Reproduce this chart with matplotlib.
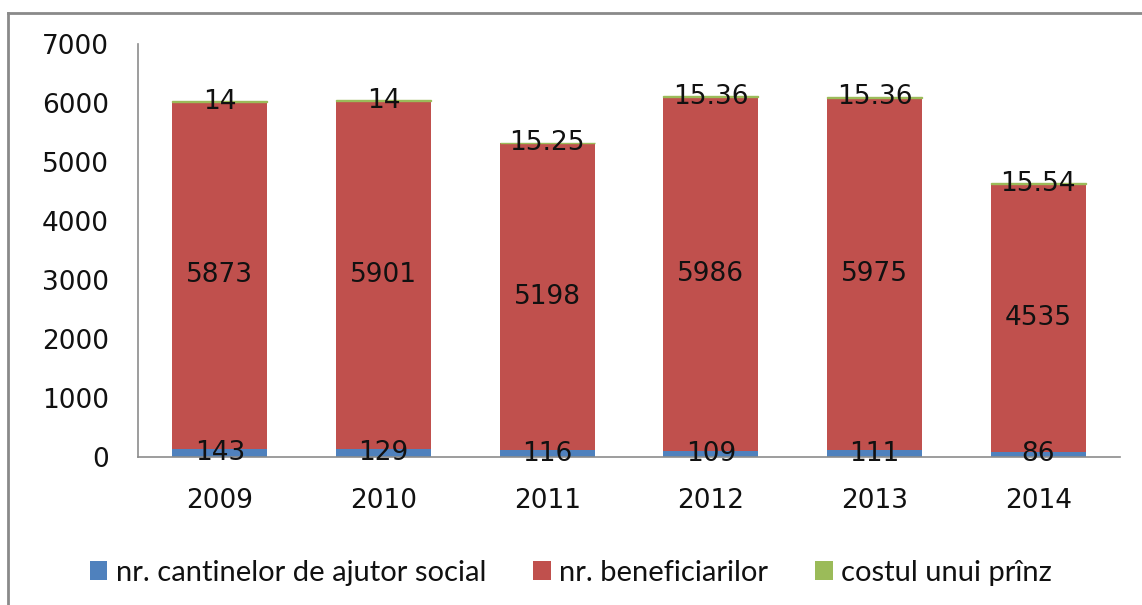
import matplotlib
matplotlib.use("Agg")
import matplotlib.pyplot as plt
from matplotlib.lines import Line2D
from matplotlib.patches import Patch
import numpy as np

years = ["2009", "2010", "2011", "2012", "2013", "2014"]
cantine = [143, 129, 116, 109, 111, 86]
beneficiari = [5873, 5901, 5198, 5986, 5975, 4535]
cost_pranz = [14, 14, 15.25, 15.36, 15.36, 15.54]
cost_labels = ["14", "14", "15.25", "15.36", "15.36", "15.54"]

series_names = ["nr. cantinelor de ajutor social", "nr. beneficiarilor", "costul unui prînz"]
colors = ["#4F81BD", "#C0504D", "#9BBB59"]

W, H = 1142, 605
fig = plt.figure(figsize=(W / 100, H / 100), dpi=100)
ax = fig.add_axes([138 / W, (H - 457) / H, (1120 - 138) / W, (457 - 44) / H])

x = np.arange(len(years))
bw = 0.58
ax.bar(x, cantine, bw, color=colors[0], linewidth=0)
ax.bar(x, beneficiari, bw, bottom=cantine, color=colors[1], linewidth=0)
bottom3 = np.array(cantine) + np.array(beneficiari)
ax.bar(x, cost_pranz, bw, bottom=bottom3, color=colors[2], edgecolor=colors[2], linewidth=1.0)

lab_font = dict(fontsize=19, color="#111111", ha="center", va="center")
for i in range(len(years)):
    ax.text(x[i], cantine[i] / 2, str(cantine[i]), **lab_font)
    ax.text(x[i], cantine[i] + beneficiari[i] / 2, str(beneficiari[i]), **lab_font)
    ax.text(x[i], bottom3[i] + cost_pranz[i] / 2, cost_labels[i], **lab_font)

ax.set_xlim(-0.5, len(years) - 0.5)
ax.set_ylim(0, 7000)
ax.set_yticks(range(0, 7001, 1000))
ax.set_xticks(x)
ax.set_xticklabels(years)
ax.tick_params(axis="y", length=0, pad=21, labelsize=19, labelcolor="#111111")
ax.tick_params(axis="x", length=0, pad=22, labelsize=19, labelcolor="#111111")
for s in ["top", "right"]:
    ax.spines[s].set_visible(False)
for s in ["left", "bottom"]:
    ax.spines[s].set_color("#8C8C8C")
    ax.spines[s].set_linewidth(1.2)

handles = [Patch(facecolor=c, edgecolor="none") for c in colors]
leg = fig.legend(handles, series_names, loc="center", bbox_to_anchor=(0.5, 1 - 573 / H),
                 ncol=3, frameon=False, handlelength=0.6, handleheight=0.6,
                 handletextpad=0.3, columnspacing=1.6,
                 prop=dict(family=["Lato", "DejaVu Sans"], size=21))
for t in leg.get_texts():
    t.set_color("#111111")

# chart frame (top and left edges)
fig.add_artist(Line2D([8 / W, 1.0], [1 - 13 / H, 1 - 13 / H], transform=fig.transFigure,
                      color="#8A8A8A", linewidth=2))
fig.add_artist(Line2D([8 / W, 8 / W], [0, 1 - 13 / H], transform=fig.transFigure,
                      color="#8A8A8A", linewidth=2))

fig.savefig("out.png", dpi=100)
